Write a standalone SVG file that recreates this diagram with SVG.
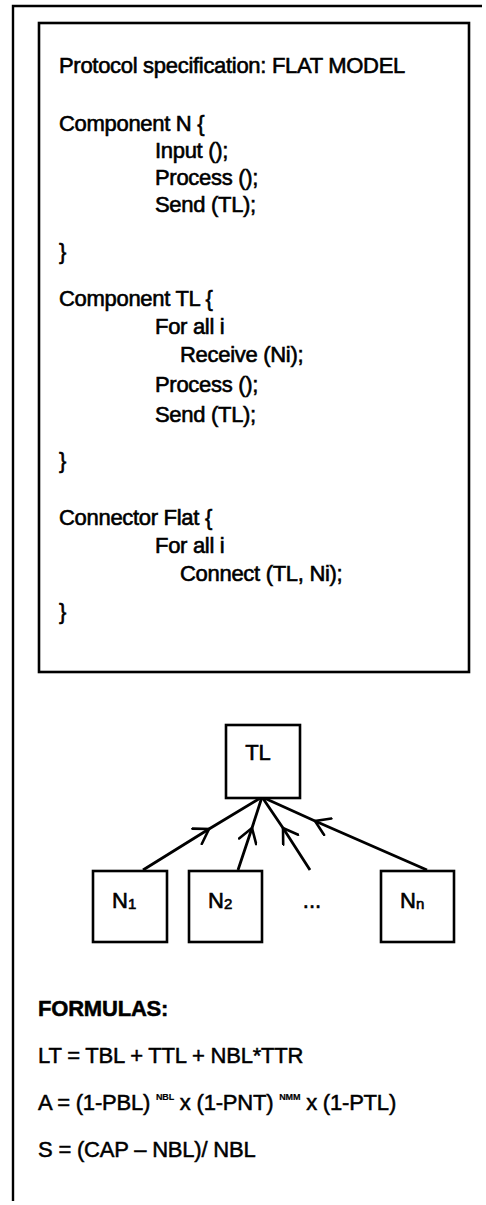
<svg xmlns="http://www.w3.org/2000/svg" width="486" height="1205" viewBox="0 0 486 1205">
  <style>
    .code { font-family: "Liberation Sans", Arial, sans-serif; font-size: 22px; fill: #000; stroke: #000; stroke-width: 0.6; letter-spacing: -0.3px; }
    .lbl { font-family: "Liberation Sans", Arial, sans-serif; font-size: 22px; fill: #000; stroke: #000; stroke-width: 0.6; }
    .sub { font-size: 15px; }
    .frm { font-family: "Liberation Sans", Arial, sans-serif; font-size: 22px; fill: #000; stroke: #000; stroke-width: 0.5; letter-spacing: -0.2px; }
    .sup { font-size: 9px; font-weight: bold; stroke-width: 0.2; }
    .box { fill: #fff; stroke: #000; stroke-width: 2.6; }
    .frame { fill: none; stroke: #000; stroke-width: 2.4; }
    .link { fill: none; stroke: #000; stroke-width: 2.8; marker-mid: url(#chev); }
  </style>
  <defs>
    <marker id="chev" viewBox="-16 -10 18 20" markerWidth="18" markerHeight="20" refX="0" refY="0" orient="auto" markerUnits="userSpaceOnUse">
      <path d="M-14,-9 L0,0 L-14,9" fill="none" stroke="#000" stroke-width="2.6" stroke-linecap="round" stroke-linejoin="miter"/>
    </marker>
  </defs>

  <rect width="486" height="1205" fill="#fff"/>

  <!-- outer page frame: top rule and left rule -->
  <g id="frame">
    <path class="frame" d="M482,6 L13,6 L13,1201"/>
  </g>

  <!-- protocol specification listing -->
  <g id="spec">
    <rect class="box" x="39" y="23" width="430" height="649"/>
    <text class="code" x="59" y="73">Protocol specification: FLAT MODEL</text>
    <text class="code" x="59" y="131">Component N {</text>
    <text class="code" x="155" y="158">Input ();</text>
    <text class="code" x="155" y="185">Process ();</text>
    <text class="code" x="155" y="212">Send (TL);</text>
    <text class="code" x="59" y="259">}</text>
    <text class="code" x="59" y="306">Component TL {</text>
    <text class="code" x="155" y="334">For all i</text>
    <text class="code" x="180" y="362">Receive (Ni);</text>
    <text class="code" x="155" y="392">Process ();</text>
    <text class="code" x="155" y="422">Send (TL);</text>
    <text class="code" x="59" y="468">}</text>
    <text class="code" x="59" y="525">Connector Flat {</text>
    <text class="code" x="155" y="553">For all i</text>
    <text class="code" x="180" y="581">Connect (TL, Ni);</text>
    <text class="code" x="59" y="619">}</text>
  </g>

  <!-- connectors from each node up to TL -->
  <g id="connectors">
    <path class="link" d="M143,870 L209,829 L262,797"/>
    <path class="link" d="M238,870 L252,828 L262,797"/>
    <path class="link" d="M310,870 L283,828 L262,797"/>
    <path class="link" d="M427,870 L315,821 L262,797"/>
  </g>

  <g id="node-TL">
    <rect class="box" x="226" y="725" width="74" height="73"/>
    <text class="lbl" x="258" y="760" text-anchor="middle">TL</text>
  </g>
  <g id="node-N1">
    <rect class="box" x="93" y="871" width="74" height="71"/>
    <text class="lbl" x="112" y="908">N<tspan class="sub" dy="1">1</tspan></text>
  </g>
  <g id="node-N2">
    <rect class="box" x="189" y="871" width="73" height="71"/>
    <text class="lbl" x="208" y="908">N<tspan class="sub" dy="1">2</tspan></text>
  </g>
  <g id="node-dots">
    <text class="lbl" x="312" y="908" text-anchor="middle">...</text>
  </g>
  <g id="node-Nn">
    <rect class="box" x="381" y="871" width="73" height="71"/>
    <text class="lbl" x="400" y="908">N<tspan class="sub" dy="1">n</tspan></text>
  </g>

  <!-- formulas -->
  <g id="formulas">
    <text class="frm" x="38" y="1016" font-weight="bold">FORMULAS:</text>
    <text class="frm" x="38" y="1063">LT = TBL + TTL + NBL*TTR</text>
    <text class="frm" x="38" y="1110">A = (1-PBL) <tspan class="sup" dy="-10">NBL</tspan><tspan dy="10"> x (1-PNT) </tspan><tspan class="sup" dy="-10">NMM</tspan><tspan dy="10"> x (1-PTL)</tspan></text>
    <text class="frm" x="38" y="1157">S = (CAP – NBL)/ NBL</text>
  </g>
</svg>
